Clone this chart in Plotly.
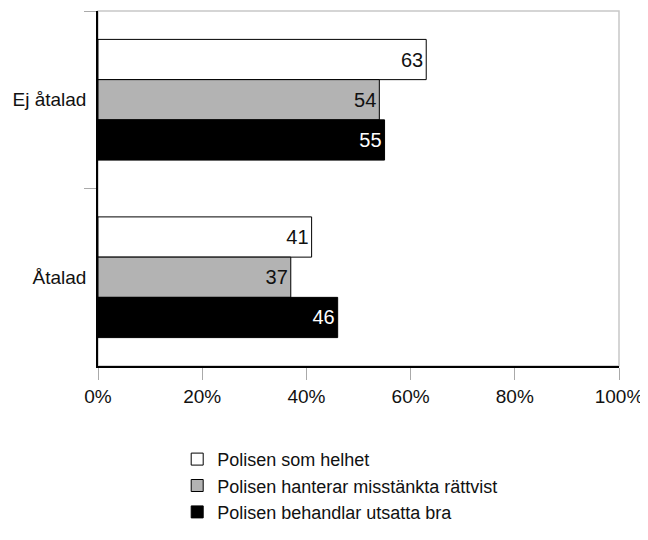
import plotly.graph_objects as go

categories = ['Ej åtalad', 'Åtalad']
series_names = ['Polisen som helhet',
                'Polisen hanterar misstänkta rättvist',
                'Polisen behandlar utsatta bra']
helhet = [63, 41]
rattvist = [54, 37]
utsatta = [55, 46]
x_ticks = [0, 20, 40, 60, 80, 100]
x_tick_labels = ['0%', '20%', '40%', '60%', '80%', '100%']

fills = ['#ffffff', '#b3b3b3', '#000000']
text_colors = ['#111111', '#111111', '#ffffff']
FONT = 'Liberation Sans, Arial, Helvetica'

fig = go.Figure()
for name, vals, fill, tc in zip(series_names, [helhet, rattvist, utsatta], fills, text_colors):
    fig.add_trace(go.Bar(
        y=categories, x=vals, name=name, orientation='h',
        marker=dict(color=fill, line=dict(color='#000000', width=1)),
        text=[str(v) for v in vals], textposition='inside',
        insidetextanchor='end', textangle=0,
        textfont=dict(color=tc, size=20, family=FONT),
        hoverinfo='skip',
    ))

# light gray frame on top/right
fig.add_shape(type='rect', xref='paper', yref='paper', x0=0, x1=1, y0=0, y1=1,
              line=dict(color='#c8c8c8', width=1.5), layer='below')

# page body has an 8px margin, so the figure is a little smaller than the window
fig.update_layout(
    width=640, height=532,
    barmode='group', bargap=0.32, bargroupgap=0,
    plot_bgcolor='white', paper_bgcolor='white',
    font=dict(family=FONT, size=19, color='#111111'),
    margin=dict(l=90, r=29, t=3, b=174),
    showlegend=True,
    legend=dict(orientation='v', x=0.152, xanchor='left', y=-0.211, yanchor='top',
                font=dict(size=18), tracegroupgap=0, itemwidth=30),
)
fig.update_xaxes(range=[0, 100], tickvals=x_ticks, ticktext=x_tick_labels,
                 ticks='outside', ticklen=12, tickcolor='#aaaaaa', tickwidth=1,
                 showline=True, linecolor='#000000', linewidth=1.5,
                 showgrid=False, zeroline=False, fixedrange=True)
fig.update_yaxes(autorange='reversed', tickson='boundaries',
                 ticks='outside', ticklen=12, tickcolor='#aaaaaa', tickwidth=1,
                 ticklabelstandoff=6,
                 showline=True, linecolor='#000000', linewidth=1.5,
                 showgrid=False, zeroline=False, fixedrange=True)

fig.write_html("out.html")
